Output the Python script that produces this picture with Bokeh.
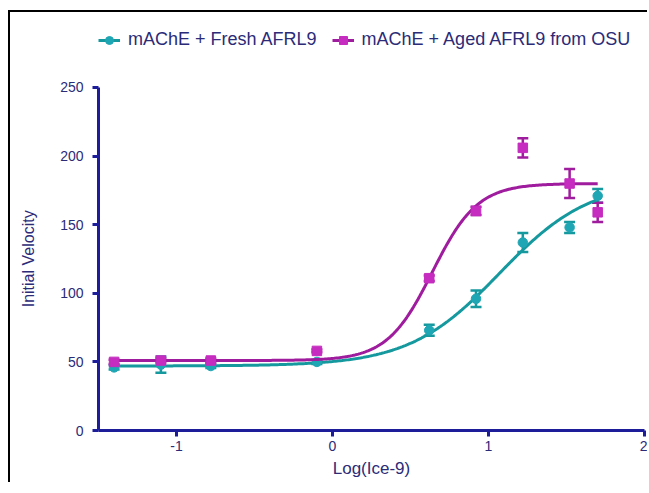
import numpy as np
from bokeh.plotting import figure
from bokeh.models import ColumnDataSource, Whisker, TeeHead, Legend, LegendItem, Range1d, FixedTicker
from bokeh.embed import file_html
from bokeh.resources import INLINE

# ---- data ----
log_conc = [-1.4, -1.1, -0.78, -0.1, 0.62, 0.92, 1.22, 1.52, 1.70]
fresh_v = [46, 48, 47, 50, 73, 96, 137, 148, 171]
fresh_err = [1.5, 6, 1.5, 1.5, 4, 6, 7, 4, 5]
aged_v = [50, 51, 51, 58, 111, 160, 206, 180, 159]
aged_err = [1.5, 1.5, 1.5, 1, 2, 3, 7, 10.5, 7]

# 4-parameter logistic fits (bottom, top, logEC50, hill)
fresh_fit = [47, 182, 1.07, 1.5]
aged_fit = [51, 180, 0.64, 3.0]

x_ticks = [-1, 0, 1, 2]
x_tick_labels = ["-1", "0", "1", "2"]
y_ticks = [0, 50, 100, 150, 200, 250]
series_names = ["mAChE + Fresh AFRL9", "mAChE + Aged AFRL9 from OSU"]

CYAN_PT = "#1fa6b4"
CYAN_LN = "#15999e"
MAG_PT = "#c52cbf"
MAG_LN = "#a01c9e"
AXIS = "#1d1d9a"
TEXT = "#2b2b78"
FONT = "Liberation Sans"


def fourpl(x, b, t, ec, h):
    return b + (t - b) / (1 + 10 ** ((ec - x) * h))


# frame extends above 250 to leave room for the legend; axis is bounded to 0..250
p = figure(width=639, height=472, output_backend="svg", toolbar_location=None,
           x_range=Range1d(-1.5, 2.0), y_range=Range1d(0, 298.8),
           min_border_left=88, min_border_right=5, min_border_top=8, min_border_bottom=54)
p.styles = {"border-left": "2px solid black", "border-top": "2px solid black",
            "margin-top": "10px", "margin-left": "8px"}
p.outline_line_color = None
p.grid.visible = False
p.background_fill_color = None
p.border_fill_color = None

for ax in (p.xaxis[0], p.yaxis[0]):
    ax.axis_line_color = AXIS
    ax.axis_line_width = 3
    ax.major_tick_line_color = AXIS
    ax.major_tick_line_width = 3
    ax.major_tick_out = 6
    ax.major_tick_in = 0
    ax.minor_tick_line_color = None
    ax.major_label_text_color = TEXT
    ax.major_label_text_font = FONT
    ax.major_label_text_font_size = "14px"
    ax.axis_label_text_color = TEXT
    ax.axis_label_text_font = FONT
    ax.axis_label_text_font_style = "normal"

p.xaxis[0].axis_label_text_font_size = "17px"
p.yaxis[0].axis_label_text_font_size = "16px"
p.xaxis[0].ticker = FixedTicker(ticks=x_ticks)
p.xaxis[0].major_label_overrides = {t: s for t, s in zip(x_ticks, x_tick_labels)}
p.yaxis[0].ticker = FixedTicker(ticks=y_ticks)
p.yaxis[0].bounds = (0, 250)
p.xaxis[0].axis_label = "Log(Ice-9)"
# non-breaking padding keeps the label centred on the 0..250 part of the axis
p.yaxis[0].axis_label = "Initial Velocity" + "\u00a0" * 15
p.xaxis[0].major_label_standoff = 4
p.yaxis[0].major_label_standoff = 9
p.xaxis[0].axis_label_standoff = 5
p.yaxis[0].axis_label_standoff = 20

xs = np.linspace(min(log_conc), max(log_conc), 300)

items = []
for vals, errs, fit, lc, pc, marker, name in [
    (fresh_v, fresh_err, fresh_fit, CYAN_LN, CYAN_PT, "circle", series_names[0]),
    (aged_v, aged_err, aged_fit, MAG_LN, MAG_PT, "square", series_names[1]),
]:
    src = ColumnDataSource(dict(x=log_conc, y=vals,
                                lo=[v - e for v, e in zip(vals, errs)],
                                hi=[v + e for v, e in zip(vals, errs)]))
    ln = p.line(xs, fourpl(xs, *fit), line_color=lc, line_width=3)
    w = Whisker(source=src, base="x", lower="lo", upper="hi", line_color=lc, line_width=2.5,
                upper_head=TeeHead(size=11, line_color=lc, line_width=2.5),
                lower_head=TeeHead(size=11, line_color=lc, line_width=2.5))
    p.add_layout(w)
    sc = p.scatter("x", "y", source=src, marker=marker, size=9.5, fill_color=pc, line_color=pc)
    items.append(LegendItem(label=name, renderers=[ln, sc]))

legend = Legend(items=items, orientation="horizontal", location=(0, 380),
                padding=0, margin=0, spacing=15, glyph_width=22, glyph_height=20,
                label_height=20, label_standoff=8, border_line_color=None,
                background_fill_alpha=0,
                label_text_font=FONT, label_text_font_size="18px", label_text_color=TEXT)
p.add_layout(legend, "center")

open("out.html", "w").write(file_html(p, INLINE))
